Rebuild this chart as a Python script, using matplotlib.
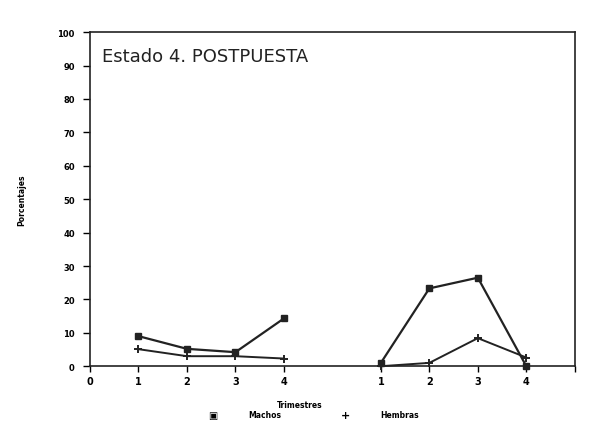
import matplotlib
matplotlib.use("Agg")
import matplotlib.pyplot as plt

# Estado 4. POSTPUESTA - porcentajes por trimestre
trimestres = ["1", "2", "3", "4"]
pos_a = [1, 2, 3, 4]
pos_b = [6, 7, 8, 9]

machos_a = [9, 5.2, 4.2, 14.3]
machos_b = [1, 23.3, 26.5, 0]
hembras_a = [5.1, 3, 3, 2.3]
hembras_b = [0, 1, 8.4, 2.6]

fig = plt.figure(figsize=(6, 4.31), dpi=100)
ax = fig.add_axes([0.15, 0.148, 0.808, 0.775])

for xs, ys in [(pos_a, machos_a), (pos_b, machos_b)]:
    ax.plot(xs, ys, color="#222222", lw=1.6, marker="s", ms=5, clip_on=False, zorder=3)
for xs, ys in [(pos_a, hembras_a), (pos_b, hembras_b)]:
    ax.plot(xs, ys, color="#222222", lw=1.4, marker="+", ms=6, mew=1.4, clip_on=False, zorder=3)

ax.set_xlim(0, 10)
ax.set_ylim(0, 100)
ax.set_yticks(range(0, 101, 10))
ax.set_yticklabels([str(v) for v in range(0, 101, 10)], fontsize=6, fontweight="bold")
ax.set_xticks([0] + pos_a + pos_b + [10])
ax.set_xticklabels(["0"] + trimestres + trimestres + [""], fontsize=7, fontweight="bold")
ax.tick_params(axis="y", direction="out", length=5, width=1, pad=6)
ax.tick_params(axis="x", direction="out", length=4, width=1, pad=3)
for s in ax.spines.values():
    s.set_linewidth(1.2)
    s.set_color("#222222")

ax.text(0.25, 93, "Estado 4. POSTPUESTA", fontsize=13, color="#222222", va="center")

fig.text(0.037, 0.535, "Porcentajes", rotation=90, fontsize=5.5, fontweight="bold",
         ha="center", va="center")
fig.text(0.5, 0.06, "Trimestres", fontsize=5.5, fontweight="bold", ha="center", va="center")
fig.text(0.355, 0.035, "\u25a3", fontsize=7, fontweight="bold", ha="center", va="center")
fig.text(0.413, 0.035, "Machos", fontsize=5.5, fontweight="bold", ha="left", va="center")
fig.text(0.575, 0.035, "+", fontsize=8, fontweight="bold", ha="center", va="center")
fig.text(0.633, 0.035, "Hembras", fontsize=5.5, fontweight="bold", ha="left", va="center")

fig.savefig("out.png", dpi=100)
